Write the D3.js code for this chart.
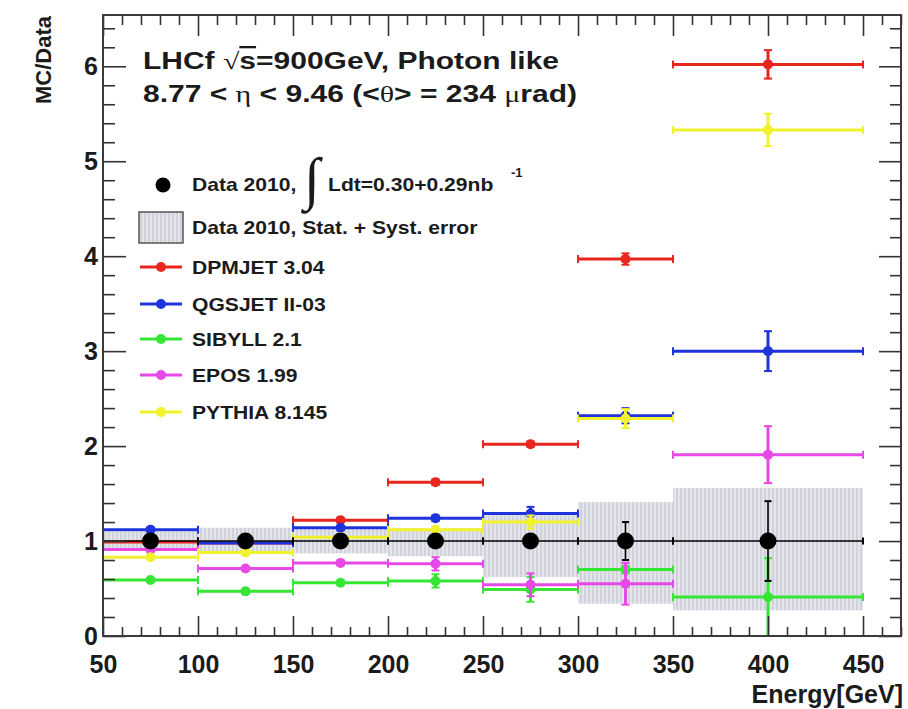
<!DOCTYPE html>
<html>
<head>
<meta charset="utf-8">
<script src="https://cdn.jsdelivr.net/npm/d3@7"></script>
<style>
  html, body { margin: 0; padding: 0; background: #fff; }
  svg { display: block; }
  text { font-family: "Liberation Sans", Arial, Helvetica, sans-serif; font-weight: bold; fill: #1b1b1b; }
  .greek { font-family: "Liberation Serif", "DejaVu Serif", serif; font-weight: normal; }
</style>
</head>
<body>
<svg id="chart" width="908" height="709"></svg>
<script>
// Energy bins [GeV]
const binLow    = [50, 100, 150, 200, 250, 300, 350];
const binHigh   = [100, 150, 200, 250, 300, 350, 450];
const binCenter = [75, 125, 175, 225, 275, 325, 400];

// Data 2010: ratio to itself and statistical error
const dataRatio = [1, 1, 1, 1, 1, 1, 1];
const dataStat  = [0.02, 0.02, 0.02, 0.03, 0.06, 0.20, 0.42];
// Stat. + syst. error band
const bandLow   = [0.90, 0.88, 0.87, 0.84, 0.62, 0.34, 0.27];
const bandHigh  = [1.10, 1.14, 1.13, 1.13, 1.28, 1.41, 1.56];

// MC / Data ratios per model
const dpmjet     = [0.99, 0.98, 1.22, 1.62, 2.02, 3.97, 6.02];
const dpmjetErr  = [0.02, 0.02, 0.02, 0.03, 0.03, 0.06, 0.15];
const qgsjet     = [1.12, 0.98, 1.14, 1.24, 1.29, 2.32, 3.00];
const qgsjetErr  = [0.02, 0.02, 0.02, 0.03, 0.07, 0.08, 0.21];
const sibyll     = [0.59, 0.47, 0.56, 0.58, 0.49, 0.70, 0.41];
const sibyllErr  = [0.02, 0.02, 0.02, 0.07, 0.13, 0.04, 0.41];
const epos       = [0.91, 0.71, 0.77, 0.76, 0.54, 0.55, 1.91];
const eposErr    = [0.02, 0.02, 0.02, 0.07, 0.12, 0.22, 0.30];
const pythia     = [0.83, 0.88, 1.04, 1.12, 1.20, 2.29, 5.33];
const pythiaErr  = [0.02, 0.02, 0.02, 0.03, 0.07, 0.10, 0.17];

const modelNames  = ["DPMJET 3.04", "QGSJET II-03", "SIBYLL 2.1", "EPOS 1.99", "PYTHIA 8.145"];
const modelColors = ["#e8261d", "#1f33dc", "#35e635", "#e649e6", "#f2f22c"];
const modelValues = [dpmjet, qgsjet, sibyll, epos, pythia];
const modelErrors = [dpmjetErr, qgsjetErr, sibyllErr, eposErr, pythiaErr];

// Axis ticks
const xMajorTicks = [50, 100, 150, 200, 250, 300, 350, 400, 450];
const yMajorTicks = [0, 1, 2, 3, 4, 5, 6];
const xTitle = "Energy[GeV]";
const yTitle = "MC/Data";

const svg = d3.select("#chart");
const W = 908, H = 709;
const frame = { left: 103, right: 901, top: 15, bottom: 636 };

const x = d3.scaleLinear().domain([50, 470]).range([frame.left, frame.right]);
const y = d3.scaleLinear().domain([0, 6.54]).range([frame.bottom, frame.top]);

// hatched fill for the error band
const defs = svg.append("defs");
const pat = defs.append("pattern").attr("id", "hatch")
  .attr("width", 4).attr("height", 4).attr("patternUnits", "userSpaceOnUse");
pat.append("rect").attr("width", 4).attr("height", 4).attr("fill", "#e4e5eb");
pat.append("line").attr("x1", 1).attr("x2", 1).attr("y1", 0).attr("y2", 4)
  .attr("stroke", "#c4c6d0").attr("stroke-width", 1.2);

svg.append("rect").attr("width", W).attr("height", H).attr("fill", "#fff");

const bins = binCenter.map((c, i) => i);

// ---- error band ----
svg.append("g").selectAll("rect").data(bins).join("rect")
  .attr("x", i => x(binLow[i]))
  .attr("width", i => x(binHigh[i]) - x(binLow[i]))
  .attr("y", i => y(bandHigh[i]))
  .attr("height", i => y(bandLow[i]) - y(bandHigh[i]))
  .attr("fill", "url(#hatch)");

// ---- histogram-style points with x-bin extent and y errors ----
function drawSeries(g, values, errors, color, opt) {
  const lw = opt.lw, cap = opt.cap, r = opt.r;
  g.selectAll("line.h").data(bins).join("line").attr("class", "h")
    .attr("x1", i => x(binLow[i])).attr("x2", i => x(binHigh[i]))
    .attr("y1", i => y(values[i])).attr("y2", i => y(values[i]))
    .attr("stroke", color).attr("stroke-width", lw);
  const edges = bins.flatMap(i => [[binLow[i], values[i]], [binHigh[i], values[i]]]);
  g.selectAll("line.ec").data(edges).join("line").attr("class", "ec")
    .attr("x1", d => x(d[0])).attr("x2", d => x(d[0]))
    .attr("y1", d => y(d[1]) - cap).attr("y2", d => y(d[1]) + cap)
    .attr("stroke", color).attr("stroke-width", 2);
  g.selectAll("line.v").data(bins).join("line").attr("class", "v")
    .attr("x1", i => x(binCenter[i])).attr("x2", i => x(binCenter[i]))
    .attr("y1", i => y(values[i] + errors[i])).attr("y2", i => y(Math.max(0, values[i] - errors[i])))
    .attr("stroke", color).attr("stroke-width", lw);
  const caps = bins.flatMap(i => [values[i] + errors[i], Math.max(0, values[i] - errors[i])].map(v => [binCenter[i], v]));
  g.selectAll("line.yc").data(caps).join("line").attr("class", "yc")
    .attr("x1", d => x(d[0]) - cap).attr("x2", d => x(d[0]) + cap)
    .attr("y1", d => y(d[1])).attr("y2", d => y(d[1]))
    .attr("stroke", color).attr("stroke-width", 2);
  g.selectAll("circle").data(bins).join("circle")
    .attr("cx", i => x(binCenter[i])).attr("cy", i => y(values[i]))
    .attr("r", r).attr("fill", color);
}

modelValues.forEach((vals, k) => {
  drawSeries(svg.append("g"), vals, modelErrors[k], modelColors[k], { lw: 3, cap: 4, r: 5 });
});
drawSeries(svg.append("g"), dataRatio, dataStat, "#000", { lw: 1.6, cap: 3.5, r: 8.5 });

// ---- axes ----
const xMinor = d3.range(50, 471, 10).filter(v => v % 50 !== 0);
const yMinor = d3.range(0, 6.5, 0.2).filter(v => Math.abs(v - Math.round(v)) > 1e-6);

function styleAxis(g) {
  g.select(".domain").remove();
  g.selectAll("line").attr("stroke", "#333").attr("stroke-width", 1.6);
  g.selectAll("text").attr("fill", "#1b1b1b").style("font-size", "25px")
    .style("font-family", '"Liberation Sans", Arial, sans-serif').style("font-weight", "bold");
}

svg.append("g").attr("transform", `translate(0,${frame.bottom})`)
  .call(d3.axisBottom(x).tickValues(xMajorTicks).tickFormat(d3.format("d"))
    .tickSize(-20).tickPadding(19).tickSizeOuter(0))
  .call(styleAxis);
svg.append("g").attr("transform", `translate(0,${frame.bottom})`)
  .call(d3.axisBottom(x).tickValues(xMinor).tickSize(-9).tickFormat("").tickSizeOuter(0))
  .call(styleAxis);
svg.append("g").attr("transform", `translate(0,${frame.top})`)
  .call(d3.axisTop(x).tickValues(xMajorTicks).tickSize(-21).tickFormat("").tickSizeOuter(0))
  .call(styleAxis);
svg.append("g").attr("transform", `translate(0,${frame.top})`)
  .call(d3.axisTop(x).tickValues(xMinor).tickSize(-10).tickFormat("").tickSizeOuter(0))
  .call(styleAxis);

svg.append("g").attr("transform", `translate(${frame.left},0)`)
  .call(d3.axisLeft(y).tickValues(yMajorTicks).tickFormat(d3.format("d"))
    .tickSize(-23).tickPadding(5).tickSizeOuter(0))
  .call(styleAxis);
svg.append("g").attr("transform", `translate(${frame.left},0)`)
  .call(d3.axisLeft(y).tickValues(yMinor).tickSize(-12).tickFormat("").tickSizeOuter(0))
  .call(styleAxis);
svg.append("g").attr("transform", `translate(${frame.right},0)`)
  .call(d3.axisRight(y).tickValues(yMajorTicks).tickSize(-22).tickFormat("").tickSizeOuter(0))
  .call(styleAxis);
svg.append("g").attr("transform", `translate(${frame.right},0)`)
  .call(d3.axisRight(y).tickValues(yMinor).tickSize(-11).tickFormat("").tickSizeOuter(0))
  .call(styleAxis);

svg.append("rect")
  .attr("x", frame.left).attr("y", frame.top)
  .attr("width", frame.right - frame.left).attr("height", frame.bottom - frame.top)
  .attr("fill", "none").attr("stroke", "#3a3a3a").attr("stroke-width", 2);

// axis titles
svg.append("text").attr("x", 903).attr("y", 703).attr("text-anchor", "end")
  .style("font-size", "25px").text(xTitle);
svg.append("text").attr("transform", "translate(51,16) rotate(-90)")
  .attr("text-anchor", "end").style("font-size", "22px").text(yTitle);

// ---- header text ----
const t1 = svg.append("text").attr("x", 143).attr("y", 69).style("font-size", "23px")
  .attr("textLength", 416).attr("lengthAdjust", "spacingAndGlyphs");
t1.append("tspan").text("LHCf ");
t1.append("tspan").attr("class", "greek").text("√");
t1.append("tspan").style("text-decoration", "overline").text("s");
t1.append("tspan").text("=900GeV, Photon like");

const t2 = svg.append("text").attr("x", 143).attr("y", 102).style("font-size", "23px")
  .attr("textLength", 434).attr("lengthAdjust", "spacingAndGlyphs");
t2.append("tspan").text("8.77 < ");
t2.append("tspan").attr("class", "greek").text("η");
t2.append("tspan").text(" < 9.46 (<");
t2.append("tspan").attr("class", "greek").text("θ");
t2.append("tspan").text("> = 234 ");
t2.append("tspan").attr("class", "greek").text("μ");
t2.append("tspan").text("rad)");

// ---- legend ----
const legFont = "19px";
const stretchX = 1.11;
function stretch(sel) {
  const n = sel.node().getComputedTextLength();
  sel.attr("textLength", n * stretchX).attr("lengthAdjust", "spacingAndGlyphs");
}
const leg = svg.append("g");

// data entry
leg.append("circle").attr("cx", 163).attr("cy", 185).attr("r", 7.5).attr("fill", "#000");
leg.append("text").attr("x", 192).attr("y", 191).style("font-size", legFont).text("Data 2010,").call(stretch);
leg.append("text").attr("x", 304).attr("y", 198).attr("class", "greek")
  .style("font-size", "58px").text("∫");
leg.append("text").attr("x", 328).attr("y", 191).style("font-size", legFont).text("Ldt=0.30+0.29nb").call(stretch);
leg.append("text").attr("x", 511).attr("y", 177).style("font-size", "13px").text("-1");

// band entry
leg.append("rect").attr("x", 139).attr("y", 212).attr("width", 44).attr("height", 31)
  .attr("fill", "url(#hatch)").attr("stroke", "#555").attr("stroke-width", 1.5);
leg.append("text").attr("x", 192).attr("y", 234).style("font-size", legFont)
  .text("Data 2010, Stat. + Syst. error").call(stretch);

// model entries
const rowY = [267, 304, 339, 375, 412];
modelNames.forEach((name, k) => {
  const ry = rowY[k];
  leg.append("line").attr("x1", 140).attr("x2", 182).attr("y1", ry).attr("y2", ry)
    .attr("stroke", modelColors[k]).attr("stroke-width", 3);
  leg.append("circle").attr("cx", 161).attr("cy", ry).attr("r", 5).attr("fill", modelColors[k]);
  leg.append("text").attr("x", 192).attr("y", ry + 7).style("font-size", legFont).text(name).call(stretch);
});
</script>
</body>
</html>
